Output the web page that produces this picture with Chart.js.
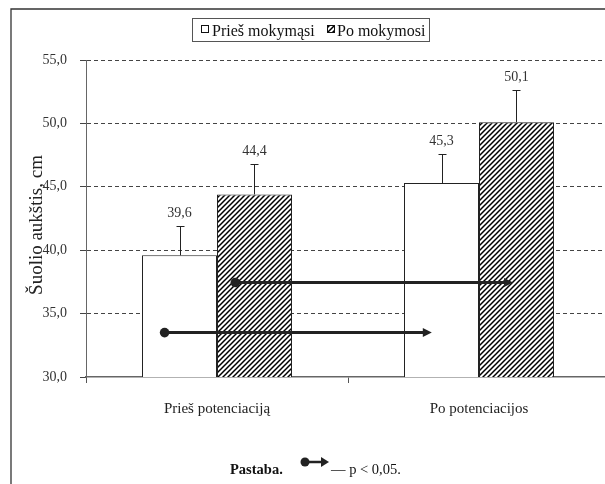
<!DOCTYPE html>
<html>
<head>
<meta charset="utf-8">
<script src="https://cdn.jsdelivr.net/npm/chart.js@4/dist/chart.umd.min.js"></script>
<style>
  html, body { margin: 0; padding: 0; background: #fff; overflow: hidden; width: 605px; height: 484px; }
  canvas { display: block; }
</style>
</head>
<body>
<canvas id="c" width="620" height="484"></canvas>
<script>
// Jump height before / after training, before and after potentiation
const categories = ['Prieš potenciaciją', 'Po potenciacijos'];
const seriesNames = ['Prieš mokymąsi', 'Po mokymosi'];
const beforeTraining = [39.6, 45.3];
const afterTraining = [44.4, 50.1];
const beforeSD = [2.3, 2.3];
const afterSD = [2.4, 2.5];
const yTicks = [30, 35, 40, 45, 50, 55];
const yTitle = 'Šuolio aukštis, cm';
const noteLabel = 'Pastaba.';
const noteText = '— p < 0,05.';
// significance arrows: start / end on the category axis (category index units), height in cm
const sigFrom = [-0.2, 0.07];
const sigTo = [0.82, 1.13];
const sigLevel = [33.5, 37.45];

const SERIF = "'Liberation Serif', 'Times New Roman', serif";
const fmt = v => v.toFixed(1).replace('.', ',');

const ctx = document.getElementById('c').getContext('2d');

// diagonal hatch fill
function makeHatch() {
  const s = 5;
  const c = document.createElement('canvas');
  c.width = s; c.height = s;
  const g = c.getContext('2d');
  g.fillStyle = '#fff';
  g.fillRect(0, 0, s, s);
  g.strokeStyle = '#000';
  g.lineWidth = 1.5;
  g.beginPath();
  g.moveTo(0, s); g.lineTo(s, 0);
  g.moveTo(-1, 1); g.lineTo(1, -1);
  g.moveTo(s - 1, s + 1); g.lineTo(s + 1, s - 1);
  g.stroke();
  return ctx.createPattern(c, 'repeat');
}
const hatch = makeHatch();

function drawArrow(c, x0, x1, yy, r, lw, hl, hw) {
  c.save();
  c.fillStyle = '#222';
  c.strokeStyle = '#222';
  c.lineWidth = lw;
  c.beginPath();
  c.moveTo(x0, yy);
  c.lineTo(x1 - hl + 1, yy);
  c.stroke();
  c.beginPath();
  c.arc(x0, yy, r, 0, Math.PI * 2);
  c.fill();
  c.beginPath();
  c.moveTo(x1, yy);
  c.lineTo(x1 - hl, yy - hw);
  c.lineTo(x1 - hl, yy + hw);
  c.closePath();
  c.fill();
  c.restore();
}

const decor = {
  id: 'decor',
  afterDatasetsDraw(chart) {
    const { ctx: c, scales: { x, y } } = chart;
    // error bars and value labels
    chart.data.datasets.forEach((ds, di) => {
      const meta = chart.getDatasetMeta(di);
      meta.data.forEach((bar, i) => {
        const v = ds.data[i];
        const top = Math.round(y.getPixelForValue(v + ds.sd[i])) + 0.5;
        const bx = Math.round(bar.x) + 0.5;
        c.save();
        c.strokeStyle = '#222';
        c.lineWidth = 1;
        c.beginPath();
        c.moveTo(bx, bar.y);
        c.lineTo(bx, top);
        c.moveTo(bx - 4, top);
        c.lineTo(bx + 4, top);
        c.stroke();
        c.fillStyle = '#333';
        c.font = '14px ' + SERIF;
        c.textAlign = 'center';
        c.textBaseline = 'alphabetic';
        c.fillText(fmt(v), bar.x, top - 10);
        c.restore();
      });
    });
    // significance arrows
    sigFrom.forEach((f, k) => {
      drawArrow(c, x.getPixelForValue(f), x.getPixelForValue(sigTo[k]),
        y.getPixelForValue(sigLevel[k]), 4.8, 3, 9, 4.5);
    });
  },
  afterDraw(chart) {
    const c = chart.ctx;
    c.save();
    // frame
    c.strokeStyle = '#333';
    c.lineWidth = 1.3;
    c.beginPath();
    c.moveTo(11, 490);
    c.lineTo(11, 9);
    c.lineTo(630, 9);
    c.stroke();

    // legend
    c.strokeStyle = '#555';
    c.lineWidth = 1;
    c.strokeRect(192.5, 18.5, 237, 23);
    c.fillStyle = '#fff';
    c.fillRect(201.5, 25.5, 7, 7);
    c.strokeStyle = '#111';
    c.strokeRect(201.5, 25.5, 7, 7);
    c.fillStyle = hatch;
    c.fillRect(327.5, 25.5, 7, 7);
    c.strokeRect(327.5, 25.5, 7, 7);
    c.fillStyle = '#111';
    c.font = '16px ' + SERIF;
    c.textAlign = 'left';
    c.textBaseline = 'alphabetic';
    c.fillText(seriesNames[0], 212, 36);
    c.fillText(seriesNames[1], 337, 36);

    // y axis title
    c.save();
    c.translate(42, 225);
    c.rotate(-Math.PI / 2);
    c.textAlign = 'center';
    c.fillStyle = '#222';
    c.font = '19px ' + SERIF;
    c.fillText(yTitle, 0, 0);
    c.restore();

    // note
    c.fillStyle = '#111';
    c.font = 'bold 14.5px ' + SERIF;
    c.textAlign = 'left';
    c.fillText(noteLabel, 230, 474);
    c.font = '14.5px ' + SERIF;
    c.fillText(noteText, 331, 474);
    c.restore();
    drawArrow(c, 305, 329, 462, 4.5, 2.5, 8, 5);
  }
};

new Chart(ctx, {
  type: 'bar',
  data: {
    labels: categories,
    datasets: [
      { label: seriesNames[0], data: beforeTraining, sd: beforeSD,
        backgroundColor: '#fff', borderColor: '#222', borderWidth: 1 },
      { label: seriesNames[1], data: afterTraining, sd: afterSD,
        backgroundColor: hatch, borderColor: '#222', borderWidth: 1 }
    ]
  },
  options: {
    responsive: false,
    animation: false,
    events: [],
    layout: { padding: { left: 0, right: 10, top: 60, bottom: 0 } },
    datasets: { bar: { categoryPercentage: 0.5725, barPercentage: 1 } },
    plugins: { legend: { display: false }, tooltip: { enabled: false } },
    scales: {
      x: {
        grid: { offset: true, drawOnChartArea: false, drawTicks: true, tickLength: 6, color: '#555' },
        border: { color: '#666', width: 1.5 },
        ticks: { font: { family: SERIF, size: 15 }, color: '#222', padding: 17 },
        afterFit(s) { s.height = 107; }
      },
      y: {
        min: 30,
        max: 55,
        afterBuildTicks(s) { s.ticks = yTicks.map(v => ({ value: v })); },
        grid: {
          color: c => (c.tick && c.tick.value === 30) ? 'rgba(0,0,0,0)' : '#444',
          tickColor: '#444',
          tickBorderDash: [],
          tickLength: 6,
          lineWidth: 1
        },
        border: { color: '#666', width: 1, dash: [4, 3] },
        ticks: { font: { family: SERIF, size: 14 }, color: '#333', padding: 13, callback: v => fmt(v) },
        afterFit(s) { s.width = 86; }
      }
    }
  },
  plugins: [decor]
});
</script>
</body>
</html>
